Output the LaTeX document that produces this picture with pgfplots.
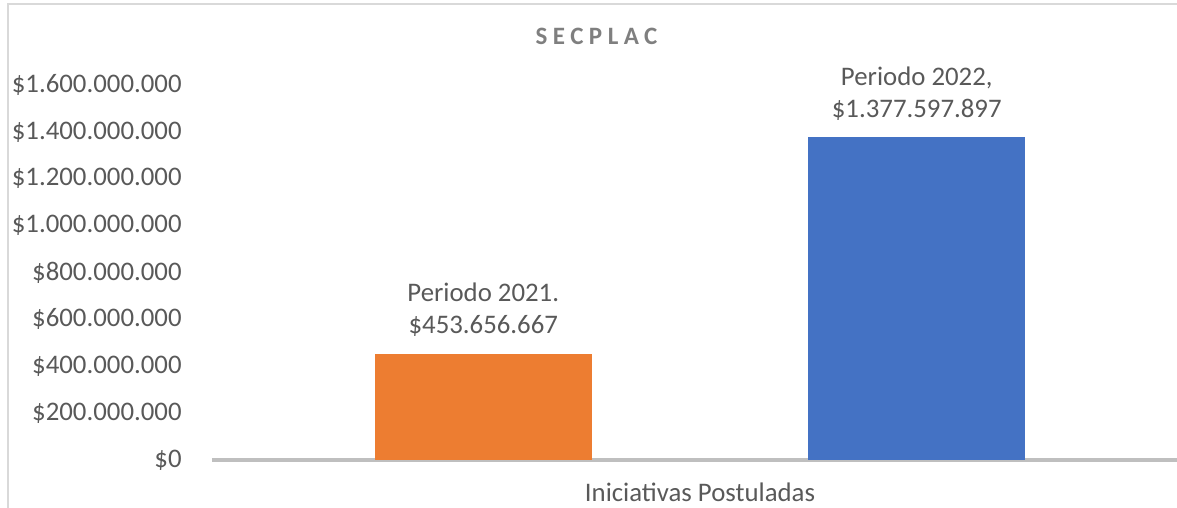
\documentclass[border=0pt]{standalone}
\usepackage{pgfplots}
\pgfplotsset{compat=1.18}
\usepackage{fontspec}
\setmainfont{Carlito}
\definecolor{barorange}{HTML}{ED7D31}
\definecolor{barblue}{HTML}{4472C4}
\definecolor{labelgray}{HTML}{595959}
\definecolor{titlegray}{HTML}{7F7F7F}
\definecolor{axisgray}{HTML}{BFBFBF}
\definecolor{framegray}{HTML}{D9D9D9}
\begin{document}
\begin{tikzpicture}
\useasboundingbox (-106pt,-24pt) rectangle (482.5pt,230pt);
\draw[framegray, line width=1pt] (-102pt,-30pt) -- (-102pt,228pt) -- (490pt,228pt);
\begin{axis}[
    at={(0,0)}, anchor=south west,
    scale only axis,
    width=488pt, height=187.5pt,
    xmin=-2.2515, xmax=2.2515,
    ymin=0, ymax=1600000000,
    axis x line*=bottom,
    axis y line*=left,
    x axis line style={-, draw=axisgray, line width=1.75pt},
    y axis line style={draw=none},
    major tick length=0pt,
    xtick={0},
    xticklabels={Iniciativas Postuladas},
    ytick={0,200000000,400000000,600000000,800000000,1000000000,1200000000,1400000000,1600000000},
    yticklabels={\$0,\$200.000.000,\$400.000.000,\$600.000.000,\$800.000.000,\$1.000.000.000,\$1.200.000.000,\$1.400.000.000,\$1.600.000.000},
    scaled y ticks=false,
    ticklabel style={font=\fontsize{13.4}{16}\selectfont, text=labelgray, inner sep=0pt},
    yticklabel style={xshift=-15pt},
    xticklabel style={yshift=-11pt},
    ybar, bar width=108.5pt,
    bar shift=0pt,
    clip=false,
    every node near coord/.append style={align=center, inner sep=0pt, yshift=8.3pt,
        font=\fontsize{13.4}{16}\selectfont, text=labelgray},
]
\addplot[fill=barorange, draw=none,
    nodes near coords={Periodo 2021.\\\$453.656.667}]
    coordinates {(-1,453656667)};
\addplot[fill=barblue, draw=none,
    nodes near coords={Periodo 2022,\\\$1.377.597.897}]
    coordinates {(1,1377597897)};
\node[anchor=base, inner sep=0pt, text=titlegray, font=\fontsize{12.5}{14}\selectfont\bfseries]
    at (rel axis cs:0.394,1.1093)
    {\addfontfeatures{LetterSpace=22}SECPLAC};
\end{axis}
\end{tikzpicture}
\end{document}
